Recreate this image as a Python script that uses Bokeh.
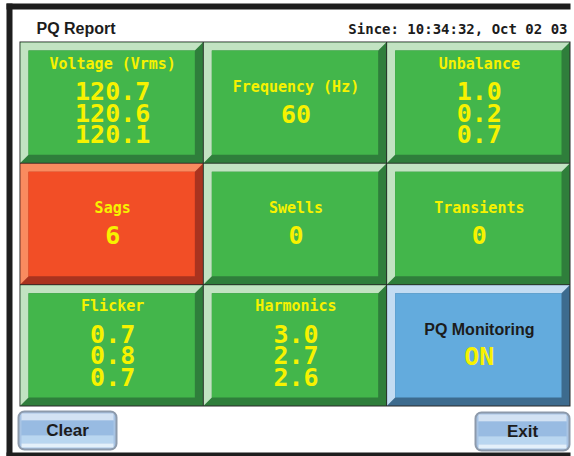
from bokeh.plotting import figure
from bokeh.models import Range1d, ColumnDataSource
from bokeh.core.properties import value
from bokeh.embed import file_html
from bokeh.resources import INLINE

# ---------------- data ----------------
header_left = "PQ Report"
header_right = "Since: 10:34:32, Oct 02 03"
tile_labels = ["Voltage (Vrms)", "Frequency (Hz)", "Unbalance",
               "Sags", "Swells", "Transients",
               "Flicker", "Harmonics", "PQ Monitoring"]
tile_values = [["120.7", "120.6", "120.1"], ["60"], ["1.0", "0.2", "0.7"],
               ["6"], ["0"], ["0"],
               ["0.7", "0.8", "0.7"], ["3.0", "2.7", "2.6"], ["ON"]]
tile_states = ["ok", "ok", "ok",
               "alarm", "ok", "ok",
               "ok", "ok", "info"]
button_labels = ["Clear", "Exit"]

# ---------------- styles ----------------
PALETTE = {
    "ok":    dict(face="#43b64b", light="#c2e3c2", dark="#2f7e3b", label="#f7f200"),
    "alarm": dict(face="#f24e26", light="#f98b5f", dark="#a9331f", label="#f7f200"),
    "info":  dict(face="#63abdd", light="#c3dcf2", dark="#3d6b8e", label="#1c1c1c"),
}
YELLOW = "#f7f200"

W, H = 574, 456
p = figure(width=W, height=H,
           x_range=Range1d(0, W), y_range=Range1d(H, 0),
           output_backend="svg", toolbar_location=None,
           x_axis_location=None, y_axis_location=None, min_border=0)
p.grid.visible = False
p.outline_line_color = None
p.background_fill_color = "white"
p.border_fill_color = "white"

# outer black frame
p.quad(left=[6, 6, 6], right=[12, 570, 570], top=[3, 3, 452], bottom=[456, 9, 456],
       fill_color="#1e1e1e", line_color=None)

# grid geometry
GX0, GX1, GY0, GY1 = 19, 569, 41, 405
xe = [GX0 + i * (GX1 - GX0) / 3 for i in range(4)]
ye = [GY0 + i * (GY1 - GY0) / 3 for i in range(4)]
B = 8

p.quad(left=[GX0], right=[GX1 + 1], top=[GY0], bottom=[GY1 + 1],
       fill_color="#2a2a2a", line_color=None)

dark_q = dict(left=[], right=[], top=[], bottom=[], color=[])
face_q = dict(left=[], right=[], top=[], bottom=[], color=[])
light_xs, light_ys, light_c = [], [], []

lab_src = dict(x=[], y=[], text=[], color=[])
lab_black = dict(x=[], y=[], text=[])
val_src = dict(x=[], y=[], text=[])

for i, (lab, vals, st) in enumerate(zip(tile_labels, tile_values, tile_states)):
    r, c = divmod(i, 3)
    x0, x1 = xe[c] + 1, xe[c + 1]
    y0, y1 = ye[r] + 1, ye[r + 1]
    pal = PALETTE[st]
    dark_q["left"].append(x0); dark_q["right"].append(x1)
    dark_q["top"].append(y0); dark_q["bottom"].append(y1)
    dark_q["color"].append(pal["dark"])
    light_xs.append([x0, x1, x1 - B, x0 + B, x0 + B, x0])
    light_ys.append([y0, y0, y0 + B, y0 + B, y1 - B, y1])
    light_c.append(pal["light"])
    face_q["left"].append(x0 + B); face_q["right"].append(x1 - B)
    face_q["top"].append(y0 + B); face_q["bottom"].append(y1 - B)
    face_q["color"].append(pal["face"])

    cx = (x0 + x1) / 2 + 1
    top = ye[r]
    if len(vals) > 1:
        ly = top + 22
        vys = [top + 49.5 + 21.5 * k for k in range(len(vals))]
    else:
        ly = top + 45.5
        vys = [top + 72.5]
    if st == "info":
        lab_black["x"].append(cx); lab_black["y"].append(ly); lab_black["text"].append(lab)
    else:
        lab_src["x"].append(cx); lab_src["y"].append(ly)
        lab_src["text"].append(lab); lab_src["color"].append(pal["label"])
    for vy, v in zip(vys, vals):
        val_src["x"].append(cx); val_src["y"].append(vy); val_src["text"].append(v)

p.quad(left="left", right="right", top="top", bottom="bottom", fill_color="color",
       line_color=None, source=ColumnDataSource(dark_q))
p.patches(xs=light_xs, ys=light_ys, fill_color=light_c, line_color=None)
p.quad(left="left", right="right", top="top", bottom="bottom", fill_color="color",
       line_color=None, source=ColumnDataSource(face_q))

p.text(x="x", y="y", text="text", text_color="color", source=ColumnDataSource(lab_src),
       text_font=value("DejaVu Sans Mono"), text_font_style="bold",
       text_font_size="15px", text_align="center", text_baseline="middle")
p.text(x="x", y="y", text="text", text_color="#1c1c1c", source=ColumnDataSource(lab_black),
       text_font=value("Liberation Sans"), text_font_style="bold",
       text_font_size="16px", text_align="center", text_baseline="middle")
p.text(x="x", y="y", text="text", text_color=YELLOW, source=ColumnDataSource(val_src),
       text_font=value("DejaVu Sans Mono"), text_font_style="bold",
       text_font_size="25px", text_align="center", text_baseline="middle")

# header
p.text(x=[36], y=[28], text=[header_left], text_color="#1c1c1c",
       text_font=value("Liberation Sans"), text_font_style="bold",
       text_font_size="16px", text_align="left", text_baseline="middle")
p.text(x=[567], y=[28], text=[header_right], text_color="#1c1c1c",
       text_font=value("DejaVu Sans Mono"), text_font_style="bold",
       text_font_size="14px", text_align="right", text_baseline="middle")

# buttons
btn_left = [18, 475]
btn_right = [116, 569]
btn_top = [411, 412]
btn_bottom = [449, 450]
p.quad(left=btn_left, right=btn_right, top=btn_top, bottom=btn_bottom,
       fill_color="#a8c4e4", line_color="#8d9aab", line_width=2, border_radius=6)
bands = [(2, 9, "#d3e2f3"), (9, 24, "#98bbe2"), (24, 32, "#b9d6f0"), (32, 36, "#e4f0fa")]
for (a, b_, col) in bands:
    p.quad(left=[l + 3 for l in btn_left], right=[r_ - 3 for r_ in btn_right],
           top=[t + a for t in btn_top], bottom=[t + b_ for t in btn_top],
           fill_color=col, line_color=None)
p.text(x=[(l + r_) / 2 for l, r_ in zip(btn_left, btn_right)],
       y=[t + 19 for t in btn_top], text=button_labels, text_color="#1c1c1c",
       text_font=value("Liberation Sans"), text_font_style="bold",
       text_font_size="17px", text_align="center", text_baseline="middle")

open("out.html", "w").write(file_html(p, INLINE))
